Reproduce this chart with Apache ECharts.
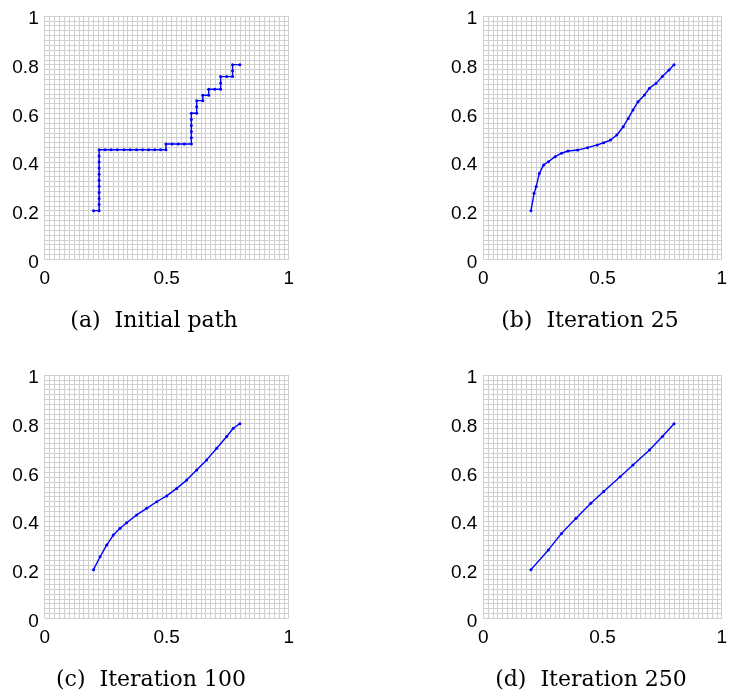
<!DOCTYPE html>
<html>
<head>
<meta charset="utf-8">
<script src="https://cdn.jsdelivr.net/npm/echarts@6/dist/echarts.min.js"></script>
<style>
  html, body { margin: 0; padding: 0; background: #fff; }
  #chart { width: 730px; height: 693px; }
</style>
</head>
<body>
<div id="chart"></div>
<script>
// path points, [x, y]
var pathA = [
  [0.20, 0.20], [0.223, 0.20],
  [0.223, 0.225], [0.223, 0.25], [0.223, 0.275], [0.223, 0.30], [0.223, 0.325],
  [0.223, 0.35], [0.223, 0.375], [0.223, 0.40], [0.223, 0.425], [0.223, 0.45],
  [0.248, 0.45], [0.272, 0.45], [0.297, 0.45], [0.325, 0.45], [0.35, 0.45],
  [0.376, 0.45], [0.401, 0.45], [0.426, 0.45], [0.451, 0.45], [0.475, 0.45], [0.497, 0.45],
  [0.497, 0.474], [0.522, 0.474], [0.547, 0.474], [0.572, 0.474], [0.601, 0.474],
  [0.601, 0.50], [0.601, 0.525], [0.601, 0.55], [0.601, 0.575], [0.601, 0.60],
  [0.623, 0.60], [0.623, 0.627], [0.623, 0.652], [0.648, 0.652], [0.648, 0.674],
  [0.672, 0.674], [0.672, 0.699], [0.697, 0.699], [0.721, 0.699], [0.721, 0.725],
  [0.721, 0.751], [0.746, 0.751], [0.770, 0.751], [0.770, 0.775], [0.770, 0.80], [0.80, 0.80]
];
var pathB = [
  [0.20, 0.20], [0.213, 0.271], [0.222, 0.299], [0.235, 0.353], [0.253, 0.388],
  [0.273, 0.401], [0.301, 0.422], [0.328, 0.436], [0.355, 0.445], [0.396, 0.449],
  [0.437, 0.459], [0.478, 0.47], [0.505, 0.479], [0.533, 0.49], [0.56, 0.511],
  [0.587, 0.545], [0.608, 0.579], [0.628, 0.614], [0.649, 0.648], [0.676, 0.675],
  [0.697, 0.703], [0.724, 0.723], [0.751, 0.751], [0.779, 0.778], [0.80, 0.80]
];
var pathC = [
  [0.20, 0.20], [0.227, 0.253], [0.254, 0.301], [0.281, 0.342], [0.309, 0.37],
  [0.336, 0.393], [0.377, 0.425], [0.418, 0.452], [0.459, 0.479], [0.50, 0.503],
  [0.541, 0.534], [0.582, 0.568], [0.623, 0.61], [0.664, 0.651], [0.705, 0.699],
  [0.746, 0.747], [0.773, 0.781], [0.80, 0.80]
];
var pathD = [
  [0.20, 0.20], [0.273, 0.281], [0.328, 0.349], [0.389, 0.411], [0.451, 0.473],
  [0.505, 0.521], [0.574, 0.582], [0.628, 0.63], [0.697, 0.692], [0.751, 0.747], [0.80, 0.80]
];
var captions = ["(a)  Initial path", "(b)  Iteration 25", "(c)  Iteration 100", "(d)  Iteration 250"];

var paths = [pathA, pathB, pathC, pathD];
// grid boxes: left, top ; caption centre x, y
var boxes = [[44.7, 16], [483.3, 16], [44.7, 375], [483.3, 375]];
var capPos = [[154, 321], [590, 321], [151, 680], [591, 680]];
var boxW = 244, boxH = 243.3;

var myChart = echarts.init(document.getElementById("chart"));

var gridLine = { show: true, lineStyle: { color: "#cfcfcf", width: 1 } };
var labelFont = { color: "#000", fontFamily: "Liberation Sans", fontSize: 19 };

var grids = [], xAxes = [], yAxes = [], series = [], graphics = [];
boxes.forEach(function (b, i) {
  grids.push({ left: b[0], top: b[1], width: boxW, height: boxH });
  xAxes.push({
    type: "value", gridIndex: i, min: 0, max: 1, interval: 0.5,
    axisLine: { show: false }, axisTick: { show: false },
    axisLabel: Object.assign({ margin: 10 }, labelFont),
    splitLine: gridLine,
    minorTick: { show: false, splitNumber: 25 },
    minorSplitLine: gridLine
  });
  yAxes.push({
    type: "value", gridIndex: i, min: 0, max: 1, interval: 0.2,
    axisLine: { show: false }, axisTick: { show: false },
    axisLabel: Object.assign({ margin: 6, verticalAlign: "top", lineHeight: 6 }, labelFont),
    splitLine: gridLine,
    minorTick: { show: false, splitNumber: 10 },
    minorSplitLine: gridLine
  });
  series.push({
    type: "line", xAxisIndex: i, yAxisIndex: i,
    data: paths[i],
    symbol: "circle", symbolSize: 3, showSymbol: true,
    lineStyle: { color: "#0000ff", width: 1.4 },
    itemStyle: { color: "#0000ff" },
    animation: false
  });
  graphics.push({
    type: "text",
    x: capPos[i][0],
    y: capPos[i][1],
    style: {
      text: captions[i],
      font: "22px 'DejaVu Serif'",
      fill: "#000",
      align: "center",
      verticalAlign: "middle"
    }
  });
});

var option = {
  backgroundColor: "#fff",
  animation: false,
  grid: grids,
  xAxis: xAxes,
  yAxis: yAxes,
  series: series,
  graphic: graphics
};
option && myChart.setOption(option);
</script>
</body>
</html>
